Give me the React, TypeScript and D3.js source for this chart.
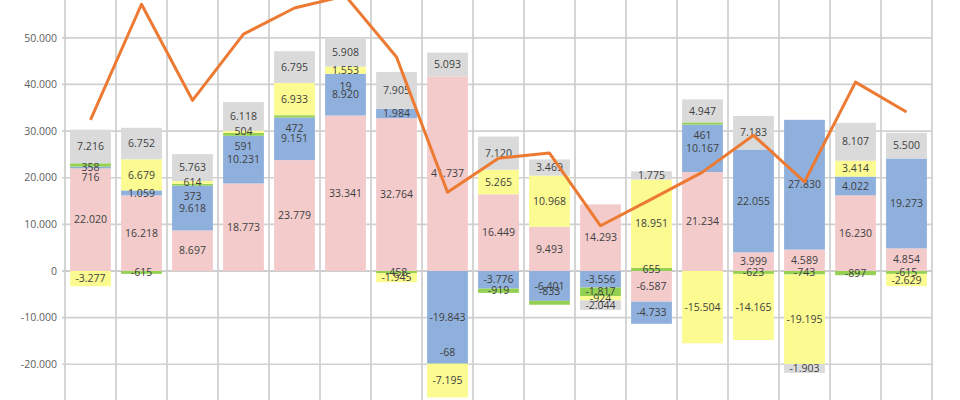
import React from 'react';
import * as d3 from 'd3';

const categories = ['1', '2', '3', '4', '5', '6', '7', '8', '9', '10', '11', '12', '13', '14', '15', '16', '17'];
const seriesPink = [22020, 16218, 8697, 18773, 23779, 33341, 32764, 41737, 16449, 9493, 14293, -6587, 21234, 3999, 4589, 16230, 4854];
const seriesBlue = [358, 1059, 9618, 10231, 9151, 8920, 1984, -19843, -3776, -6401, -3556, -4733, 10167, 22055, 27830, 4022, 19273];
const seriesGreen = [716, -615, 373, 591, 472, 19, -458, -68, -919, -833, -1817, 655, 461, -623, -743, -897, -615];
const seriesYellow = [-3277, 6679, 614, 504, 6933, 1553, -1945, -7195, 5265, 10968, -924, 18951, -15504, -14165, -19195, 3414, -2629];
const seriesGray = [7216, 6752, 5763, 6118, 6795, 5908, 7905, 5093, 7120, 3469, -2044, 1775, 4947, 7183, -1903, 8107, 5500];
const lineValues = [32400, 57200, 36600, 50800, 56400, 59000, 45900, 16900, 24200, 25300, 9700, 15400, 21200, 29100, 19100, 40500, 34100];
const yTicks = [-30000, -20000, -10000, 0, 10000, 20000, 30000, 40000, 50000, 60000];

const keys = ['pink', 'blue', 'green', 'yellow', 'gray'];
const colors: Record<string, string> = {
  pink: '#f3cbcb',
  blue: '#8fb0dc',
  green: '#94d152',
  yellow: '#fbfb92',
  gray: '#dadada',
};

const W = 960;
const H = 400;

const locale = d3.formatLocale({ decimal: ',', thousands: '.', grouping: [3], currency: ['', ''], minus: '-' });
const fmt = locale.format(',d');

export default function App() {
  const rows = categories.map((c, i) => ({
    cat: c,
    pink: seriesPink[i],
    blue: seriesBlue[i],
    green: seriesGreen[i],
    yellow: seriesYellow[i],
    gray: seriesGray[i],
  }));

  const x = d3.scaleBand<string>().domain(categories).range([65, 932]).paddingInner(0.2).paddingOuter(0.1);
  const y = d3.scaleLinear().domain([-30000, 60000]).range([410.9, -8.8]);

  const stack = d3.stack<any>().keys(keys).offset(d3.stackOffsetDiverging);
  const stacked = stack(rows);

  const step = x.step();
  const x0 = 65;
  const vLines = d3.range(categories.length + 1).map((i) => x0 + i * step);

  const line = d3
    .line<number>()
    .x((_, i) => (x(categories[i]) as number) + x.bandwidth() / 2)
    .y((d) => y(d));

  // label positions: segment centres; small green segments nudged toward their base
  type Lab = { key: string; i: number; v: number; x: number; y: number };
  const labels: Lab[] = [];
  stacked.forEach((s) => {
    s.forEach((d, i) => {
      const v = (d.data as any)[s.key] as number;
      if (!v) return;
      labels.push({
        key: s.key,
        i,
        v,
        x: (x(categories[i]) as number) + x.bandwidth() / 2,
        y: y((d[0] + d[1]) / 2),
      });
    });
  });
  stacked.forEach((s) => {
    if (s.key !== 'green') return;
    s.forEach((d, i) => {
      const lab = labels.find((l) => l.key === 'green' && l.i === i);
      if (!lab) return;
      const base = lab.v > 0 ? d[0] : d[1];
      if (base === 0) return;
      const shifted = lab.y + (lab.v > 0 ? 12 : -11);
      const clash = labels.some((l) => l !== lab && l.i === i && Math.abs(l.y - shifted) < 4);
      if (!clash) lab.y = shifted;
    });
  });

  const font = "'Open Sans', 'DejaVu Sans', sans-serif";

  return (
    <svg width={W} height={H} style={{ position: 'fixed', left: 0, top: 0, background: '#fff' }} fontFamily={font}>
      <rect x={0} y={0} width={W} height={H} fill="#fff" />
      {yTicks.map((t) => (
        <line key={'h' + t} x1={62} x2={932} y1={y(t)} y2={y(t)} stroke={t === 0 ? '#bdbdbd' : '#d0d0d0'} strokeWidth={1.7} />
      ))}
      {vLines.map((v, i) => (
        <line key={'v' + i} x1={v} x2={v} y1={0} y2={H} stroke="#cecece" strokeWidth={1.7} />
      ))}
      {yTicks.map((t) => (
        <text key={'t' + t} x={57} y={y(t)} dy="0.35em" textAnchor="end" fontSize={10.5} fill="#606060">
          {fmt(t)}
        </text>
      ))}
      {stacked.map((s) => (
        <g key={s.key} fill={colors[s.key]}>
          {s.map((d, i) => {
            const top = y(Math.max(d[0], d[1]));
            const bot = y(Math.min(d[0], d[1]));
            if (bot - top <= 0) return null;
            return <rect key={i} x={x(categories[i]) as number} width={x.bandwidth()} y={top} height={bot - top} />;
          })}
        </g>
      ))}
      <g fontSize={10.5} fill="#3f3f3f" textAnchor="middle">
        {labels.map((l) => (
          <text key={l.key + l.i} x={l.x} y={l.y} dy="0.35em">
            {fmt(l.v)}
          </text>
        ))}
      </g>
      <path d={line(lineValues) || ''} fill="none" stroke="#ec7a33" strokeWidth={3} strokeLinejoin="round" />
    </svg>
  );
}
